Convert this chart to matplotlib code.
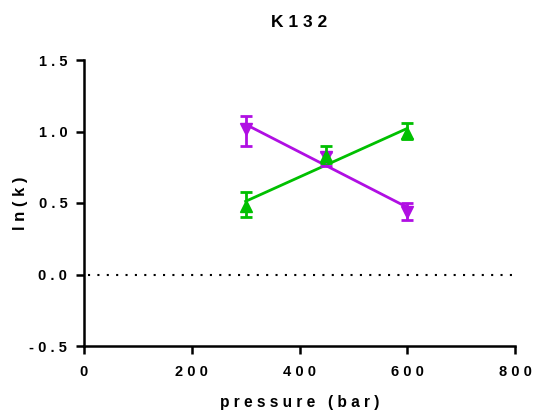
import numpy as np
import matplotlib.pyplot as plt

plt.rcParams['font.family'] = ['Liberation Sans', 'DejaVu Sans']
plt.rcParams['font.weight'] = 'bold'

pressure = [300, 450, 600]

# purple series (down triangles)
lnk_down = [1.02, 0.82, 0.44]
lnk_down_lo = [0.90, 0.76, 0.38]
lnk_down_hi = [1.11, 0.86, 0.50]

# green series (up triangles)
lnk_up = [0.48, 0.83, 0.99]
lnk_up_lo = [0.40, 0.78, 0.95]
lnk_up_hi = [0.58, 0.90, 1.06]

xticks = [0, 200, 400, 600, 800]
yticks = [-0.5, 0.0, 0.5, 1.0, 1.5]


def spaced(s):
    return " ".join(s)


fig = plt.figure(figsize=(5.33, 4.18), dpi=100)
ax = fig.add_axes([84 / 533, 1 - 346 / 418, (515 - 84) / 533, (346 - 60) / 418])

series = [
    (lnk_down, lnk_down_lo, lnk_down_hi, "#B00FE3", "v"),
    (lnk_up, lnk_up_lo, lnk_up_hi, "#00C000", "^"),
]
x = np.array(pressure)
for y, lo, hi, col, mk in series:
    y = np.array(y)
    yerr = [y - np.array(lo), np.array(hi) - y]
    ax.errorbar(x, y, yerr=yerr, fmt=mk, color=col, ms=8, capsize=4.5,
                elinewidth=2, capthick=2, zorder=3)
    # linear regression line
    a, b = np.polyfit(x, y, 1)
    ax.plot(x[[0, -1]], a * x[[0, -1]] + b, color=col, lw=2, zorder=2)

ax.axhline(0, xmin=0.01, color="black", ls=(0, (1, 3.5)), lw=1.5, zorder=1)

ax.set_xlim(0, 800)
ax.set_ylim(-0.5, 1.5)
ax.set_xticks(xticks)
ax.set_xticklabels([spaced(str(t)) for t in xticks])
ax.set_yticks(yticks)
ax.set_yticklabels([spaced(f"{t:.1f}") for t in yticks])
for s in ["top", "right"]:
    ax.spines[s].set_visible(False)
for s in ["left", "bottom"]:
    ax.spines[s].set_linewidth(1.8)
ax.tick_params(width=1.8, length=6, labelsize=10.5, pad=6)
ax.tick_params(axis="x", pad=8)

ax.set_xlabel(spaced("pressure") + "   " + spaced("(bar)"), fontsize=11.2, fontweight="bold", labelpad=11)
ax.set_ylabel(spaced("ln(k)"), fontsize=12, fontweight="bold", labelpad=1)
ax.set_title(spaced("K132"), fontsize=12.5, fontweight="bold", pad=24)

fig.savefig("out.png", dpi=100)
